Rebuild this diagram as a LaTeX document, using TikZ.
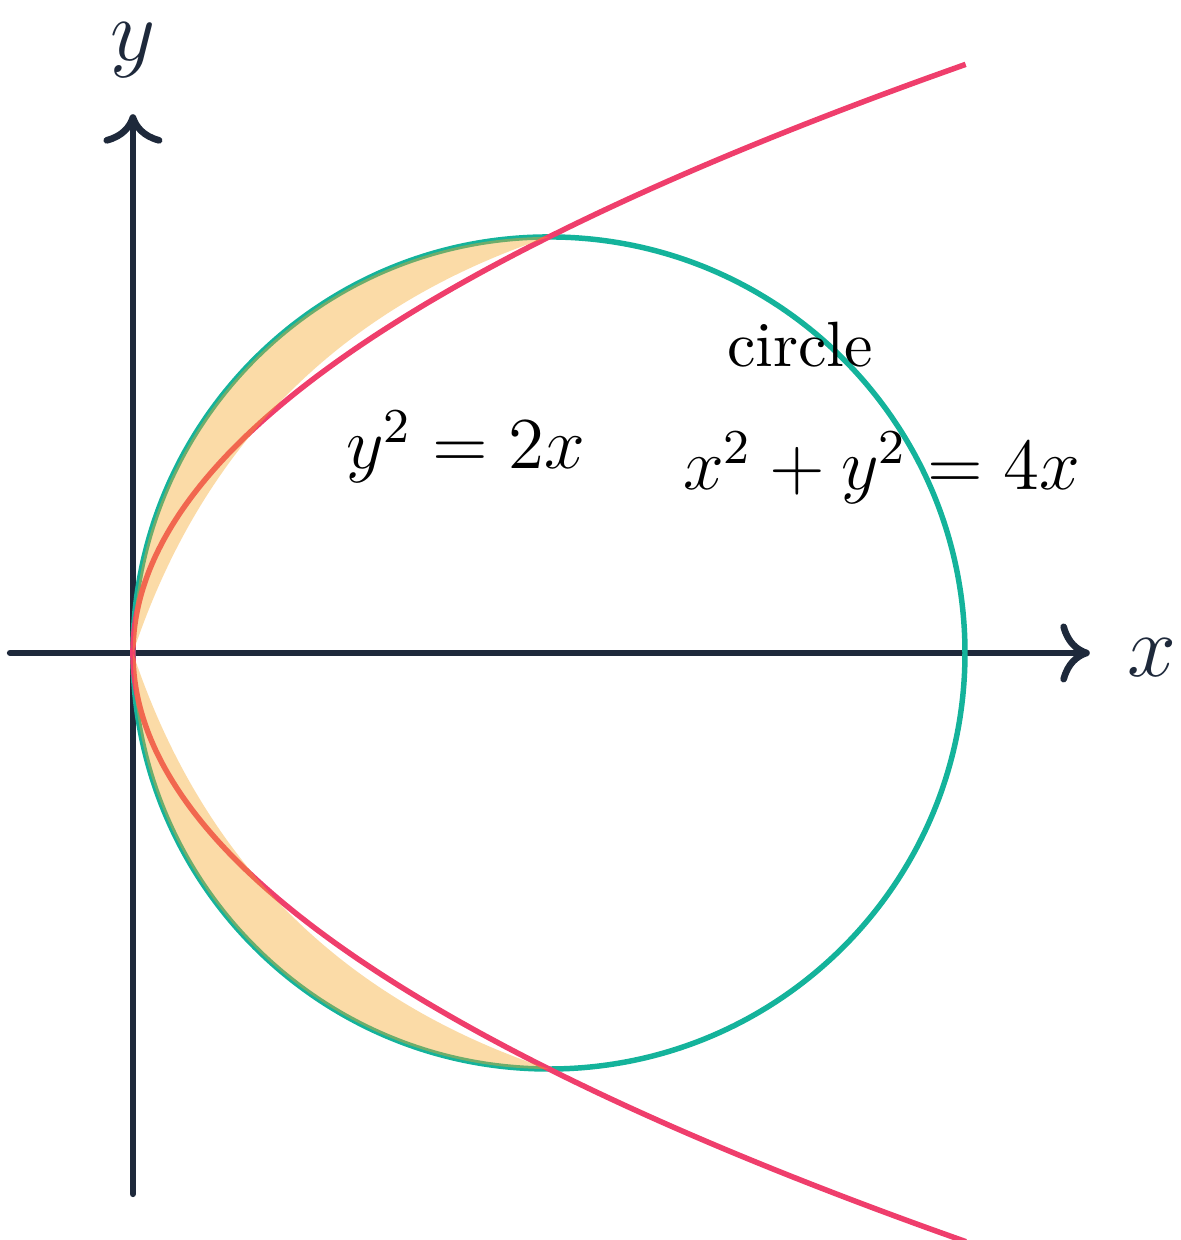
\documentclass[tikz,border=0pt]{standalone}
\usepackage{amsmath}
\usetikzlibrary{arrows.meta}
\definecolor{axiscol}{HTML}{1E293B}
\definecolor{circcol}{HTML}{14B39B}
\definecolor{parcol}{HTML}{EF3E6C}
\definecolor{areacol}{HTML}{F5A524}

\begin{document}
\begin{tikzpicture}[
  x=1.2cm, y=1.2cm,
  every node/.style={font=\large},
  axis/.style={draw=axiscol, line width=1.1pt, line cap=round, -{Computer Modern Rightarrow[width=3.4mm, length=1.7mm]}},
  axlabel/.style={text=axiscol, font=\Large, inner sep=1pt},
  curve/.style={line width=0.9pt},
  area/.style={fill=areacol, fill opacity=0.4}
]
  \useasboundingbox (-0.639,-2.822) rectangle (5.034,3.139);
  % axes
  \coordinate (xstart) at (-0.59,0);
  \coordinate (xend) at (4.6,0);
  \coordinate (ystart) at (0,-2.6);
  \coordinate (yend) at (0,2.59);
  \draw[axis] (xstart) -- (xend);
  \draw[axis] (ystart) -- (yend);
  \node[axlabel] (xlab) at (4.9,-0.02) {$x$};
  \node[axlabel] (ylab) at (0,2.9) {$y$};
  % circle and parabola
  \draw[curve, circcol] (2,0) circle[radius=2];
  \draw[curve, parcol] plot[domain=-2.83:2.83, samples=80, smooth, variable=\t] ({\t*\t/2},{\t});
  % shaded area
  \fill[area] (0,0) arc[start angle=180, end angle=90, radius=2]
    .. controls (1,1.667) and (0.333,1) .. (0,0);
  \fill[area] (0,0) arc[start angle=180, end angle=270, radius=2]
    .. controls (1,-1.667) and (0.333,-1) .. (0,0);
  % labels
  \node[font=\fontsize{10.5pt}{12pt}\selectfont] (circname) at (3.207,1.48) {circle};
  \node (circeq) at (3.6,0.89) {$x^2+y^2=4x$};
  \node (pareq) at (1.6,0.99) {$y^2=2x$};
\end{tikzpicture}
\end{document}
